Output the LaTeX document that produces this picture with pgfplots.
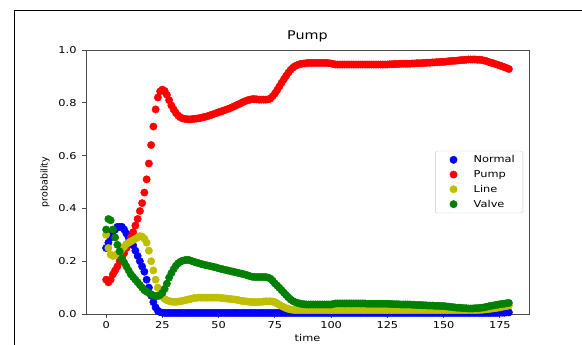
\documentclass[border=0pt]{standalone}
\usepackage{pgfplots}
\usepackage{pgfplotstable}
\pgfplotsset{compat=1.18}
\usepackage{fontspec}
\setmainfont{DejaVu Sans}[FakeStretch=1.2]
\newfontfamily\plainfont{DejaVu Sans}
\definecolor{mplblue}{rgb}{0,0,1}
\definecolor{mplred}{rgb}{1,0,0}
\definecolor{mply}{rgb}{0.75,0.75,0}
\definecolor{mplg}{rgb}{0,0.5,0}
\pgfplotstableread{
t N P L V
0 .25 .13 .30 .32
1 .27 .12 .25 .36
2 .29 .13 .225 .355
3 .31 .15 .22 .32
4 .32 .165 .222 .29
5 .33 .18 .228 .262
6 .33 .20 .235 .237
7 .33 .215 .245 .21
8 .32 .23 .255 .195
9 .305 .25 .265 .18
10 .29 .27 .27 .165
11 .275 .29 .275 .15
12 .26 .31 .28 .14
13 .24 .335 .285 .13
14 .22 .36 .29 .12
15 .20 .39 .295 .11
16 .18 .42 .293 .10
17 .16 .46 .285 .09
18 .13 .51 .27 .085
19 .10 .57 .24 .08
20 .07 .64 .20 .075
21 .045 .71 .165 .07
22 .025 .775 .13 .068
23 .012 .82 .10 .068
24 .007 .843 .08 .072
25 .005 .85 .065 .08
26 .004 .845 .057 .095
27 .004 .83 .052 .115
28 .004 .81 .049 .138
29 .004 .79 .047 .155
30 .004 .775 .046 .17
31 .004 .762 .046 .183
32 .004 .752 .047 .192
33 .004 .745 .048 .198
34 .004 .741 .05 .202
35 .004 .739 .052 .204
36 .004 .738 .054 .205
37 .004 .737 .056 .204
38 .004 .738 .058 .201
39 .004 .739 .06 .198
40 .004 .740 .061 .195
41 .004 .741 .062 .193
42 .004 .743 .062 .19
43 .004 .745 .062 .188
44 .004 .747 .062 .186
45 .004 .749 .062 .184
46 .004 .752 .062 .182
47 .004 .755 .062 .18
48 .004 .758 .062 .178
49 .004 .761 .062 .176
50 .004 .764 .062 .173
51 .004 .767 .061 .171
52 .004 .770 .060 .169
53 .004 .773 .059 .167
54 .004 .776 .058 .165
55 .004 .779 .057 .163
56 .004 .783 .056 .161
57 .004 .787 .055 .159
58 .004 .791 .054 .157
59 .004 .795 .052 .155
60 .004 .799 .05 .153
61 .004 .803 .049 .151
62 .004 .807 .048 .149
63 .004 .810 .047 .146
64 .004 .812 .046 .143
65 .004 .814 .045 .141
66 .004 .814 .045 .14
67 .004 .813 .045 .14
68 .004 .812 .046 .14
69 .004 .812 .046 .14
70 .004 .812 .047 .14
71 .004 .812 .048 .14
72 .004 .813 .048 .138
73 .004 .816 .048 .134
74 .004 .825 .047 .126
75 .004 .835 .045 .116
76 .004 .848 .04 .108
77 .004 .862 .035 .099
78 .004 .876 .03 .09
79 .004 .889 .026 .081
80 .004 .902 .022 .072
81 .004 .914 .019 .063
82 .004 .925 .017 .055
83 .004 .933 .016 .049
84 .004 .939 .015 .045
85 .004 .943 .015 .042
86 .004 .946 .015 .04
87 .004 .948 .015 .038
88 .004 .949 .015 .037
89 .004 .950 .015 .036
90 .004 .951 .015 .036
91 .004 .951 .015 .036
92 .004 .951 .015 .036
93 .004 .951 .015 .036
94 .004 .951 .015 .036
95 .004 .951 .015 .036
96 .004 .951 .015 .036
97 .004 .951 .015 .036
98 .004 .951 .015 .036
99 .004 .950 .015 .036
100 .004 .949 .015 .036
101 .004 .947 .015 .038
102 .004 .945 .015 .040
103 .004 .945 .015 .040
104 .004 .945 .015 .040
105 .004 .945 .015 .040
106 .004 .945 .015 .040
107 .004 .945 .015 .040
108 .004 .945 .015 .040
109 .004 .945 .015 .040
110 .004 .945 .015 .040
111 .004 .945 .015 .040
112 .004 .945 .015 .040
113 .004 .945 .015 .040
114 .004 .945 .015 .040
115 .004 .945 .015 .040
116 .004 .945 .015 .039
117 .004 .945 .015 .039
118 .004 .945 .015 .039
119 .004 .945 .015 .039
120 .004 .945 .015 .039
121 .004 .945 .015 .039
122 .004 .945 .015 .039
123 .004 .945 .015 .039
124 .004 .945 .015 .039
125 .004 .945 .015 .039
126 .004 .946 .015 .038
127 .004 .946 .015 .038
128 .004 .947 .015 .037
129 .004 .947 .015 .037
130 .004 .947 .015 .037
131 .004 .948 .015 .036
132 .004 .948 .015 .036
133 .004 .948 .015 .036
134 .004 .948 .015 .036
135 .004 .948 .015 .036
136 .004 .949 .015 .035
137 .004 .949 .015 .035
138 .004 .950 .015 .034
139 .004 .950 .015 .034
140 .004 .950 .015 .034
141 .004 .951 .015 .033
142 .004 .951 .015 .033
143 .004 .952 .015 .032
144 .004 .952 .015 .032
145 .004 .953 .015 .032
146 .004 .953 .015 .031
147 .004 .954 .015 .031
148 .004 .954 .015 .031
149 .004 .955 .015 .030
150 .004 .955 .015 .030
151 .004 .956 .015 .029
152 .004 .957 .015 .028
153 .004 .958 .015 .027
154 .004 .959 .015 .026
155 .004 .959 .015 .025
156 .004 .960 .015 .024
157 .004 .961 .015 .024
158 .004 .962 .015 .023
159 .004 .962 .015 .022
160 .004 .963 .015 .022
161 .004 .964 .015 .021
162 .004 .964 .015 .021
163 .004 .964 .015 .021
164 .004 .964 .015 .022
165 .004 .963 .015 .022
166 .004 .963 .016 .023
167 .004 .962 .016 .024
168 .004 .960 .017 .025
169 .004 .958 .018 .027
170 .004 .955 .019 .029
171 .004 .952 .020 .031
172 .004 .950 .021 .032
173 .004 .947 .022 .034
174 .004 .944 .024 .035
175 .005 .941 .025 .037
176 .005 .938 .027 .038
177 .005 .935 .029 .039
178 .006 .932 .030 .041
179 .006 .928 .032 .042
}\datatable
\begin{document}
\begin{tikzpicture}
\useasboundingbox (-86bp,-31bp) rectangle (496bp,314bp);
\draw[line width=1.8bp, black] (-71.5bp,-40bp) -- (-71.5bp,303.5bp) -- (510bp,303.5bp);
\begin{axis}[
  at={(0,0)}, anchor=south west,
  scale only axis,
  width=443bp, height=264bp,
  xmin=-8.95, xmax=187.95,
  ymin=0, ymax=1,
  xtick={0,25,50,75,100,125,150,175},
  ytick={0,0.2,0.4,0.6,0.8,1.0},
  /pgf/number format/assume math mode=true,
  tick align=outside,
  tick pos=left,
  major tick length=3.5bp,
  every tick/.style={black!70, line width=0.8bp},
  axis line style={black!70, line width=0.8bp},
  ticklabel style={font=\fontsize{9.5}{11}\selectfont},
  xticklabel style={yshift=-0.5bp},
  yticklabel style={xshift=-2.5bp, /pgf/number format/fixed, /pgf/number format/fixed zerofill, /pgf/number format/precision=1},
  title={Pump},
  title style={font=\fontsize{12}{14}\selectfont, at={(0.5,1)}, anchor=south, yshift=-1.5bp},
  xlabel={time},
  xlabel style={font=\fontsize{9.5}{11}\selectfont, at={(axis description cs:0.5,0)}, anchor=base, yshift=-27bp},
  ylabel={probability},
  ylabel style={font=\plainfont\fontsize{9.5}{11}\selectfont, at={(axis description cs:-0.0926,0.5)}, anchor=center},
  legend style={at={(0.9865,0.5)}, anchor=east, draw=black!20, rounded corners=2bp,
    font=\fontsize{9.5}{11}\selectfont, row sep=2.2bp, inner xsep=6bp, inner ysep=2.5bp},
  legend cell align=left,
  legend image code/.code={\draw[#1] plot coordinates {(12bp,0bp)}; \path (0bp,0bp) (30bp,0bp);},
  every axis plot/.append style={only marks, mark=*, mark size=3.7bp},
]
\addplot[mplblue] table[x=t, y=N] {\datatable};
\addlegendentry{Normal}
\addplot[mplred] table[x=t, y=P] {\datatable};
\addlegendentry{Pump}
\addplot[mply] table[x=t, y=L] {\datatable};
\addlegendentry{Line}
\addplot[mplg] table[x=t, y=V] {\datatable};
\addlegendentry{Valve}
\end{axis}
\end{tikzpicture}
\end{document}
